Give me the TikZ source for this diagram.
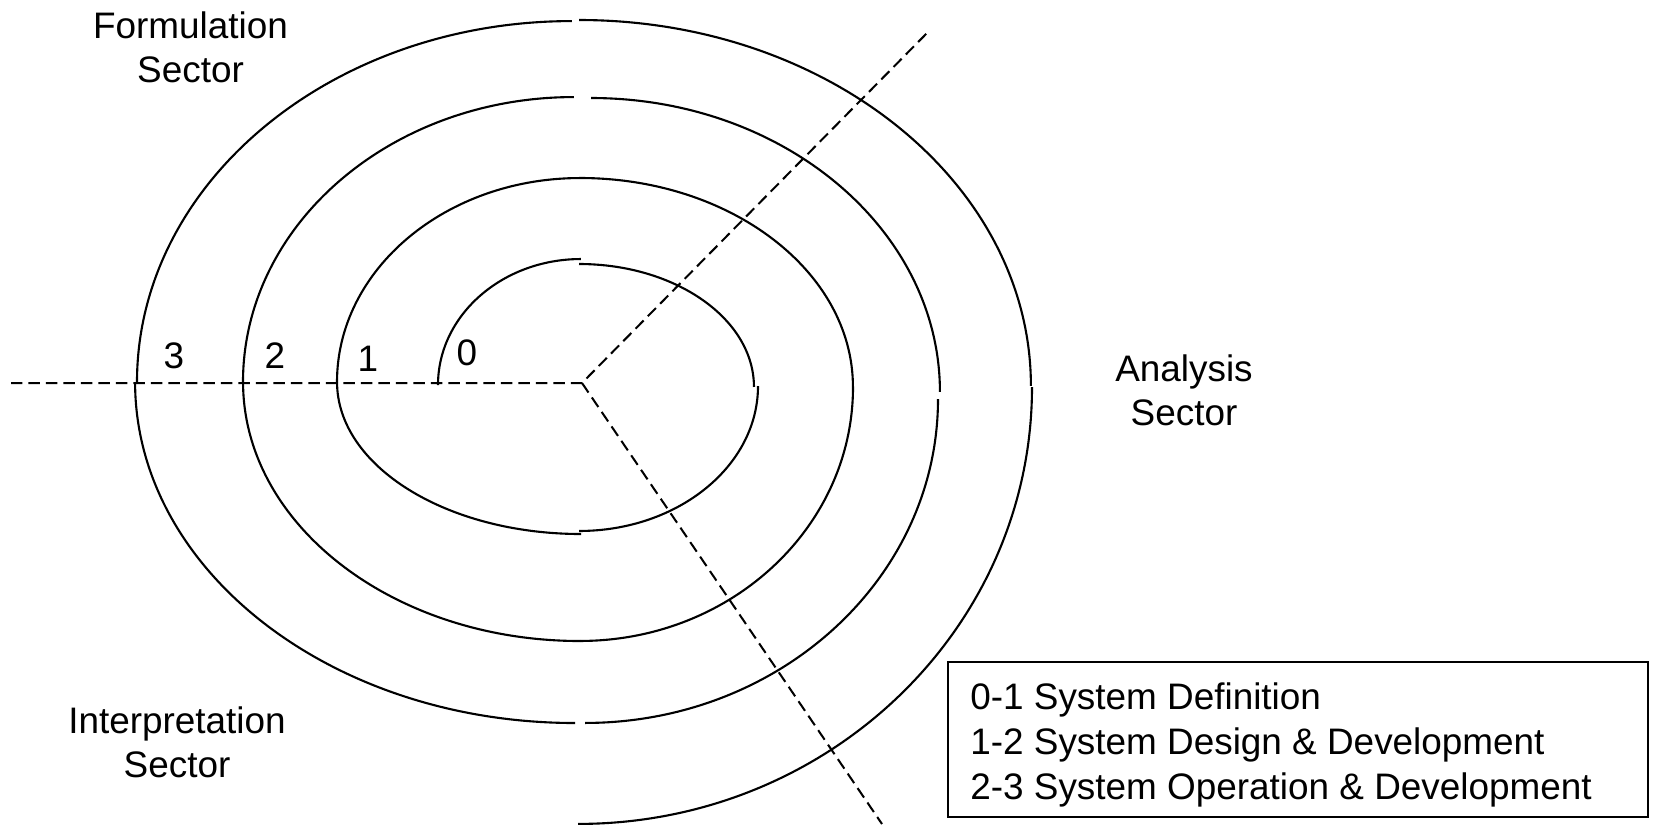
\documentclass[tikz,border=0pt]{standalone}
\usepackage{fontspec}
\setmainfont{Liberation Sans}
\begin{document}
\begin{tikzpicture}[x=0.02cm, y=-0.02cm,
  spiral/.style={line width=1.2pt, black},
  sectorline/.style={line width=1.15pt, black, dash pattern=on 0.23cm off 0.12cm},
  lbl/.style={font=\fontsize{21}{25}\selectfont, align=center, inner sep=0pt},
  legendbox/.style={draw, line width=1.1pt, minimum width=14cm, minimum height=3.1cm, inner sep=0pt}]
\useasboundingbox (0,0) rectangle (1653,826);
\fill[white] (0,0) rectangle (1653,826);

% sector boundaries
\coordinate (O) at (582,383);
\coordinate (W) at (11,383);
\coordinate (NE) at (928,32);
\coordinate (SE) at (882,824);
\draw[sectorline] (W) -- (O) -- (NE);
\draw[sectorline] (O) -- (SE);

% ring 0
\draw[spiral] (438,385) arc[start angle=180, end angle=90, x radius=2.86cm, y radius=2.52cm];
\draw[spiral] (579,264) arc[start angle=90, end angle=0, x radius=3.50cm, y radius=2.46cm];
\draw[spiral] (758,386) arc[start angle=0, end angle=-90, x radius=3.58cm, y radius=2.90cm];
\draw[spiral] (581,534) arc[start angle=-90, end angle=-180, x radius=4.88cm, y radius=3.04cm];
% ring 1
\draw[spiral] (337,382) arc[start angle=180, end angle=90, x radius=4.86cm, y radius=4.08cm];
\draw[spiral] (580,178) arc[start angle=90, end angle=0, x radius=5.46cm, y radius=4.18cm];
\draw[spiral] (853,387) arc[start angle=0, end angle=-90, x radius=5.46cm, y radius=5.08cm];
\draw[spiral] (580,641) arc[start angle=-90, end angle=-180, x radius=6.74cm, y radius=5.18cm];
% ring 2
\draw[spiral] (243,382) arc[start angle=180, end angle=90, x radius=6.62cm, y radius=5.70cm];
\draw[spiral] (591,98) arc[start angle=90, end angle=0, x radius=6.98cm, y radius=5.88cm];
\draw[spiral] (938,399) arc[start angle=0, end angle=-90, x radius=7.06cm, y radius=6.48cm];
\draw[spiral] (575,723) arc[start angle=-90, end angle=-180, x radius=8.80cm, y radius=6.82cm];
% ring 3
\draw[spiral] (137,382) arc[start angle=180, end angle=90, x radius=8.70cm, y radius=7.22cm];
\draw[spiral] (579,20) arc[start angle=90, end angle=0, x radius=9.04cm, y radius=7.32cm];
\draw[spiral] (1032,387) arc[start angle=0, end angle=-90, x radius=9.08cm, y radius=8.74cm];

% ring numbers
\node[lbl] (n0) at (467,353) {0};
\node[lbl] (n1) at (368,359) {1};
\node[lbl] (n2) at (275,356) {2};
\node[lbl] (n3) at (174,356) {3};

% sector names
\node[lbl] (formulation) at (190.5,47.5) {Formulation\\Sector};
\node[lbl] (analysis) at (1184,390) {Analysis\\Sector};
\node[lbl] (interpretation) at (177,742.5) {Interpretation\\Sector};

% legend
\node[legendbox] (legend) at (1298,739.5) {};
\node[lbl, align=left, anchor=north west, font=\fontsize{21}{25.6}\selectfont] (legendtext) at (970,682)
  {0-1 System Definition\\1-2 System Design \& Development\\2-3 System Operation \& Development};
\end{tikzpicture}
\end{document}
